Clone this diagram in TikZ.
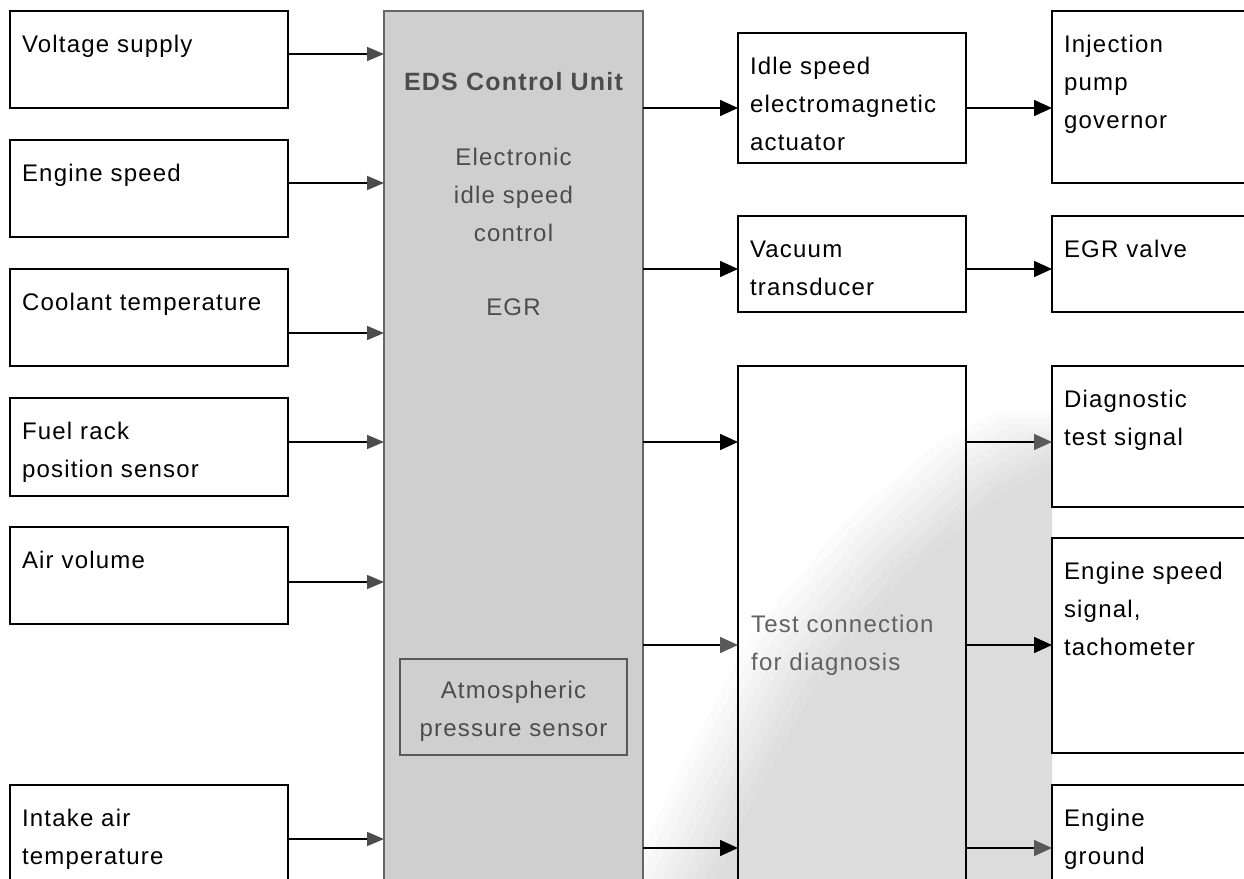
\documentclass[tikz,border=0pt]{standalone}
\usepackage{fontspec}
\setmainfont{Liberation Sans}[LetterSpace=5]
\usetikzlibrary{arrows.meta}
\newcommand\bxt[3]{\parbox[c][#2pt][t]{#1pt}{\raggedright\leftskip=12pt\relax\rule{0pt}{41pt}#3}}
\begin{document}
\begin{tikzpicture}[x=1pt,y=-1pt,
  every node/.style={font=\fontsize{24}{38}\selectfont},
  bx/.style={draw=black, line width=1.7pt, inner sep=0pt, outer sep=0pt, anchor=north west, fill=white},
  larr/.style={line width=1.6pt, -{Triangle[length=17pt,width=14pt,color=black!70]}},
  rarr/.style={line width=1.6pt, -{Triangle[length=18pt,width=16pt]}},
  garr/.style={line width=1.6pt, -{Triangle[length=18pt,width=16pt,color=black!65]}},
  cutext/.style={text=black!70, inner sep=0pt},
  shadowlayer/.style={fill=black, opacity=0.016}
]
\useasboundingbox (0,0) rectangle (1244,878);
\clip (0,0) rectangle (1244,878);
% soft scan shadow
\begin{scope}
  \clip (600,380) rectangle (1052,878);
  \foreach \d in {-8,0,8,...,56} {
    \fill[shadowlayer, shift={(\d,0.8*\d)}] (610,900) -- (640,878) -- (690,770) -- (760,640) -- (850,530)
      -- (945,450) -- (1005,418) -- (1100,418) -- (1100,950) -- (610,950) -- cycle;
  }
\end{scope}

% control unit
\node[draw=black!60, fill=black!19, line width=1.4pt, inner sep=0pt, outer sep=0pt,
      minimum width=259pt, minimum height=900pt, anchor=north west] (cu) at (384,11) {};
\node[cutext, font=\fontsize{25}{38}\selectfont\bfseries, anchor=base] (cut) at (513.5,90) {EDS Control Unit};
\node[cutext, align=center, anchor=north] (cue) at (513.5,148) {Electronic\\idle speed\\control};
\node[cutext, anchor=base] (egrt) at (513.5,315) {EGR};
\node[draw=black!65, line width=1.4pt, inner sep=0pt, minimum width=227pt, minimum height=96pt] (aps) at (513.5,707) {};
\node[cutext, align=center, anchor=north] (apst) at (513.5,681) {Atmospheric\\pressure sensor};

% left inputs
\node[bx] (vs) at (10,11)  {\bxt{278}{97}{Voltage supply}};
\node[bx] (es) at (10,140) {\bxt{278}{97}{Engine speed}};
\node[bx] (ct) at (10,269) {\bxt{278}{97}{Coolant temperature}};
\node[bx] (fr) at (10,398) {\bxt{278}{98}{Fuel rack\\position sensor}};
\node[bx] (av) at (10,527) {\bxt{278}{97}{Air volume}};
\node[bx] (ia) at (10,785) {\bxt{278}{130}{Intake air\\temperature}};

% middle
\node[bx] (idle) at (738,33)  {\bxt{228}{130}{Idle speed\\electromagnetic\\actuator}};
\node[bx] (vac)  at (738,216) {\bxt{228}{96}{Vacuum\\transducer}};
\node[bx, fill=none] (test) at (738,366) {\parbox[c][560pt][t]{228pt}{\mbox{}}};
\node[inner sep=0pt, anchor=north west, align=left, text=black!62] (testt) at (751,615) {Test connection\\for diagnosis};

% right
\node[bx] (inj)  at (1052,11)  {\bxt{250}{172}{Injection\\pump\\governor}};
\node[bx] (egrv) at (1052,216) {\bxt{250}{96}{EGR valve}};
\node[bx] (diag) at (1052,366) {\bxt{250}{141}{Diagnostic\\test signal}};
\node[bx] (ess)  at (1052,538) {\bxt{250}{215}{Engine speed\\signal,\\tachometer}};
\node[bx] (gnd)  at (1052,785) {\bxt{250}{130}{Engine\\ground}};

% connectors
\draw[larr] (vs.east |- 0,54)  -- (cu.west |- 0,54);
\draw[larr] (es.east |- 0,183) -- (cu.west |- 0,183);
\draw[larr] (ct.east |- 0,333) -- (cu.west |- 0,333);
\draw[larr] (fr.east |- 0,442) -- (cu.west |- 0,442);
\draw[larr] (av.east |- 0,582) -- (cu.west |- 0,582);
\draw[larr] (ia.east |- 0,839) -- (cu.west |- 0,839);

\draw[rarr] (cu.east |- 0,108)   -- (idle.west |- 0,108);
\draw[rarr] (idle.east |- 0,108) -- (inj.west |- 0,108);
\draw[rarr] (cu.east |- 0,269)   -- (vac.west |- 0,269);
\draw[rarr] (vac.east |- 0,269)  -- (egrv.west |- 0,269);
\draw[rarr] (cu.east |- 0,442)   -- (test.west |- 0,442);
\draw[garr] (test.east |- 0,442) -- (diag.west |- 0,442);
\draw[garr] (cu.east |- 0,645)   -- (test.west |- 0,645);
\draw[rarr] (test.east |- 0,645) -- (ess.west |- 0,645);
\draw[rarr] (cu.east |- 0,848)   -- (test.west |- 0,848);
\draw[garr] (test.east |- 0,848) -- (gnd.west |- 0,848);
\end{tikzpicture}
\end{document}
